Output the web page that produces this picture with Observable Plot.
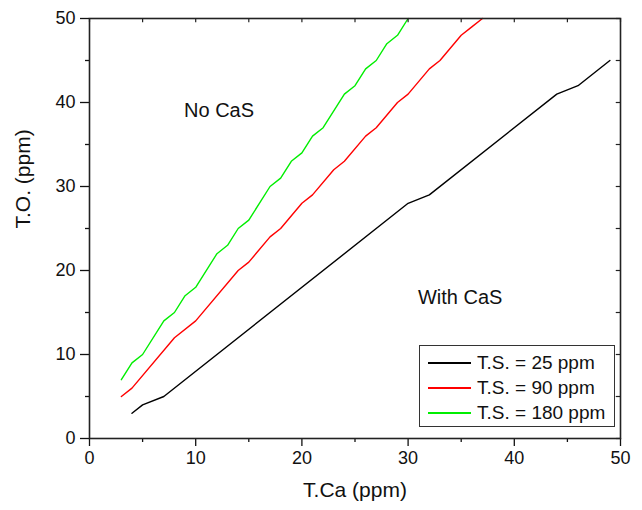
<!DOCTYPE html>
<html>
<head>
<meta charset="utf-8">
<script src="https://cdn.jsdelivr.net/npm/d3@7"></script>
<script src="https://cdn.jsdelivr.net/npm/@observablehq/plot@0.6"></script>
<style>
  html, body { margin: 0; padding: 0; background: #fff; }
  #wrap { position: relative; width: 642px; height: 510px; font-family: Arial, "Liberation Sans", sans-serif; }
  #legend { position: absolute; left: 419px; top: 345px; width: 196px; height: 82px; border: 1px solid #333; background: #fff; box-sizing: border-box; }
  .row { position: absolute; left: 0; height: 25px; display: flex; align-items: center; font-size: 19px; color: #111; white-space: nowrap; }
  .sw { display: inline-block; width: 43px; height: 2px; margin-left: 8px; margin-right: 6px; }
</style>
</head>
<body>
<div id="wrap"></div>
<script>
const seriesNames = ["T.S. = 25 ppm", "T.S. = 90 ppm", "T.S. = 180 ppm"];
const seriesColors = ["#000000", "#ff0000", "#00ee00"];

const ts25x = [4, 5, 7, 30, 32, 44, 46, 49];
const ts25y = [3, 4, 5, 28, 29, 41, 42, 45];

const ts90x = [3, 4, 8, 10, 14, 15, 17, 18, 20, 21, 23, 24, 26, 27, 29, 30, 32, 33, 35, 36, 37];
const ts90y = [5, 6, 12, 14, 20, 21, 24, 25, 28, 29, 32, 33, 36, 37, 40, 41, 44, 45, 48, 49, 50];

const ts180x = [3, 4, 5, 7, 8, 9, 10, 12, 13, 14, 15, 17, 18, 19, 20, 21, 22, 24, 25, 26, 27, 28, 29, 30];
const ts180y = [7, 9, 10, 14, 15, 17, 18, 22, 23, 25, 26, 30, 31, 33, 34, 36, 37, 41, 42, 44, 45, 47, 48, 50];

const majorTicks = [0, 10, 20, 30, 40, 50];
const minorTicks = [5, 15, 25, 35, 45];
const allTicks = [0, 5, 10, 15, 20, 25, 30, 35, 40, 45, 50];

const annotations = [
  {x: 12.2, y: 39, text: "No CaS"},
  {x: 34.9, y: 16.8, text: "With CaS"}
];

const xs = [ts25x, ts90x, ts180x];
const ys = [ts25y, ts90y, ts180y];
const data = [];
seriesNames.forEach((s, i) => xs[i].forEach((x, j) => data.push({series: s, x, y: ys[i][j]})));

const font = 'Arial, "Liberation Sans", sans-serif';

const chart = Plot.plot({
  width: 642,
  height: 510,
  marginLeft: 89,
  marginRight: 22,
  marginTop: 18,
  marginBottom: 72,
  style: {fontFamily: font, background: "#fff", color: "#111"},
  x: {domain: [0, 50]},
  y: {domain: [0, 50]},
  color: {domain: seriesNames, range: seriesColors},
  marks: [
    Plot.line(data, {x: "x", y: "y", z: "series", stroke: "series", strokeWidth: 1.4}),
    Plot.text(annotations, {x: "x", y: "y", text: "text", fontSize: 20, fill: "#111"}),
    // bottom axis
    Plot.axisX({ticks: majorTicks, tickSize: 8, tickPadding: 5, fontSize: 18, label: null, tickFormat: d => d, strokeWidth: 1.3}),
    Plot.axisX({ticks: minorTicks, tickSize: 4, text: null, label: null, strokeWidth: 1.3}),
    // left axis
    Plot.axisY({ticks: majorTicks, tickSize: 9, tickPadding: 5, fontSize: 18, label: null, tickFormat: d => d, strokeWidth: 1.3}),
    Plot.axisY({ticks: minorTicks, tickSize: 4, text: null, label: null, strokeWidth: 1.3}),
    // top / right inward ticks
    Plot.ruleX(allTicks, {x: d => d, y1: 50, y2: 49.5, stroke: "#222", strokeWidth: 1.2}),
    Plot.ruleY(allTicks, {y: d => d, x1: 50, x2: 49.6, stroke: "#222", strokeWidth: 1.2}),
    Plot.frame({stroke: "#222", strokeWidth: 1.6}),
    Plot.text(["T.Ca (ppm)"], {frameAnchor: "bottom", dy: 58, fontSize: 21, fill: "#111"}),
    Plot.text(["T.O. (ppm)"], {frameAnchor: "left", dx: -66, dy: 0, rotate: -90, fontSize: 21, fill: "#111"})
  ]
});

const wrap = document.getElementById("wrap");
wrap.appendChild(chart);

const legend = document.createElement("div");
legend.id = "legend";
seriesNames.forEach((s, i) => {
  const row = document.createElement("div");
  row.className = "row";
  row.style.top = (4 + i * 25) + "px";
  const sw = document.createElement("span");
  sw.className = "sw";
  sw.style.background = seriesColors[i];
  const t = document.createElement("span");
  t.textContent = s;
  row.appendChild(sw);
  row.appendChild(t);
  legend.appendChild(row);
});
wrap.appendChild(legend);
</script>
</body>
</html>
